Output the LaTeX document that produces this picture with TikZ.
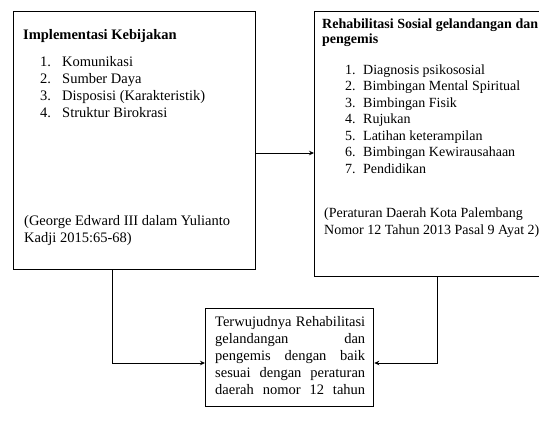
\documentclass[tikz,border=0pt]{standalone}
\usepackage{fontspec}
\setmainfont{Liberation Serif}
\usetikzlibrary{arrows.meta,calc}
\newcommand\fsz{\fontsize{14.5}{16.5}\selectfont}
\newcommand\fszr{\fontsize{14}{16.5}\selectfont}
\newcommand\jline[1]{\hbox to 150pt{#1}}
\begin{document}
\begin{tikzpicture}[x=1pt,y=-1pt,
  box/.style={draw=black, line width=1.3pt, anchor=north west, inner sep=0pt},
  conn/.style={draw=black, line width=1pt, -{Stealth[length=5pt,width=4.5pt]}},
  txt/.style={anchor=base west, inner sep=0pt, font=\fsz, text=black},
  btxt/.style={txt, font=\fsz\bfseries},
  rtxt/.style={txt, font=\fszr},
  rbtxt/.style={txt, font=\fszr\bfseries}]
\useasboundingbox (0,0) rectangle (539,421);
\fill[white] (0,0) rectangle (539,421);
% boxes
\node[box, minimum width=242pt, minimum height=258pt] (L) at (13,11) {};
\node[box, minimum width=240pt, minimum height=265pt] (R) at (314,11) {};
\node[box, minimum width=168pt, minimum height=98pt] (B) at (205,308) {};
% helper coordinates
\coordinate (y1) at (0,153);
\coordinate (y2) at (0,363);
\coordinate (x1) at (112,0);
\coordinate (x2) at (437,0);
% connectors
\draw[conn] (L.east |- y1) -- (R.west |- y1);
\draw[conn] (L.south -| x1) |- (B.west |- y2);
\draw[conn] (R.south -| x2) |- (B.east |- y2);
% left box text
\node[btxt] (lt) at (23,39.5) {Implementasi Kebijakan};
\node[txt] (ln1) at (40,66.5) {1.};  \node[txt] (li1) at (62,66.5) {Komunikasi};
\node[txt] (ln2) at (40,83.5) {2.};  \node[txt] (li2) at (62,83.5) {Sumber Daya};
\node[txt] (ln3) at (40,100.5) {3.}; \node[txt] (li3) at (62,100.5) {Disposisi (Karakteristik)};
\node[txt] (ln4) at (40,117.5) {4.}; \node[txt] (li4) at (62,117.5) {Struktur Birokrasi};
\node[txt] (lc1) at (24,225) {(George Edward III dalam Yulianto};
\node[txt] (lc2) at (24,242) {Kadji 2015:65-68)};
% right box text
\node[rbtxt] (rt1) at (322,28) {Rehabilitasi Sosial gelandangan dan};
\node[rbtxt] (rt2) at (322,43) {pengemis};
\node[rtxt] (rn1) at (345,74) {1.};    \node[rtxt] (ri1) at (363,74) {Diagnosis psikososial};
\node[rtxt] (rn2) at (345,90.5) {2.};  \node[rtxt] (ri2) at (363,90.5) {Bimbingan Mental Spiritual};
\node[rtxt] (rn3) at (345,107) {3.};   \node[rtxt] (ri3) at (363,107) {Bimbingan Fisik};
\node[rtxt] (rn4) at (345,123.5) {4.}; \node[rtxt] (ri4) at (363,123.5) {Rujukan};
\node[rtxt] (rn5) at (345,140) {5.};   \node[rtxt] (ri5) at (363,140) {Latihan keterampilan};
\node[rtxt] (rn6) at (345,156.5) {6.}; \node[rtxt] (ri6) at (363,156.5) {Bimbingan Kewirausahaan};
\node[rtxt] (rn7) at (345,173) {7.};   \node[rtxt] (ri7) at (363,173) {Pendidikan};
\node[rtxt] (rc1) at (324,217.5) {(Peraturan Daerah Kota Palembang};
\node[rtxt] (rc2) at (324,234.5) {Nomor 12 Tahun 2013 Pasal 9 Ayat 2)};
% bottom box text
\node[txt] (b1) at (215,326.5) {\jline{Terwujudnya\hfill Rehabilitasi}};
\node[txt] (b2) at (215,343.5) {\jline{gelandangan\hfill dan}};
\node[txt] (b3) at (215,360.5) {\jline{pengemis\hfill dengan\hfill baik}};
\node[txt] (b4) at (215,377.5) {\jline{sesuai\hfill dengan\hfill peraturan}};
\node[txt] (b5) at (215,394.5) {\jline{daerah\hfill nomor\hfill 12\hfill tahun}};
\end{tikzpicture}
\end{document}
